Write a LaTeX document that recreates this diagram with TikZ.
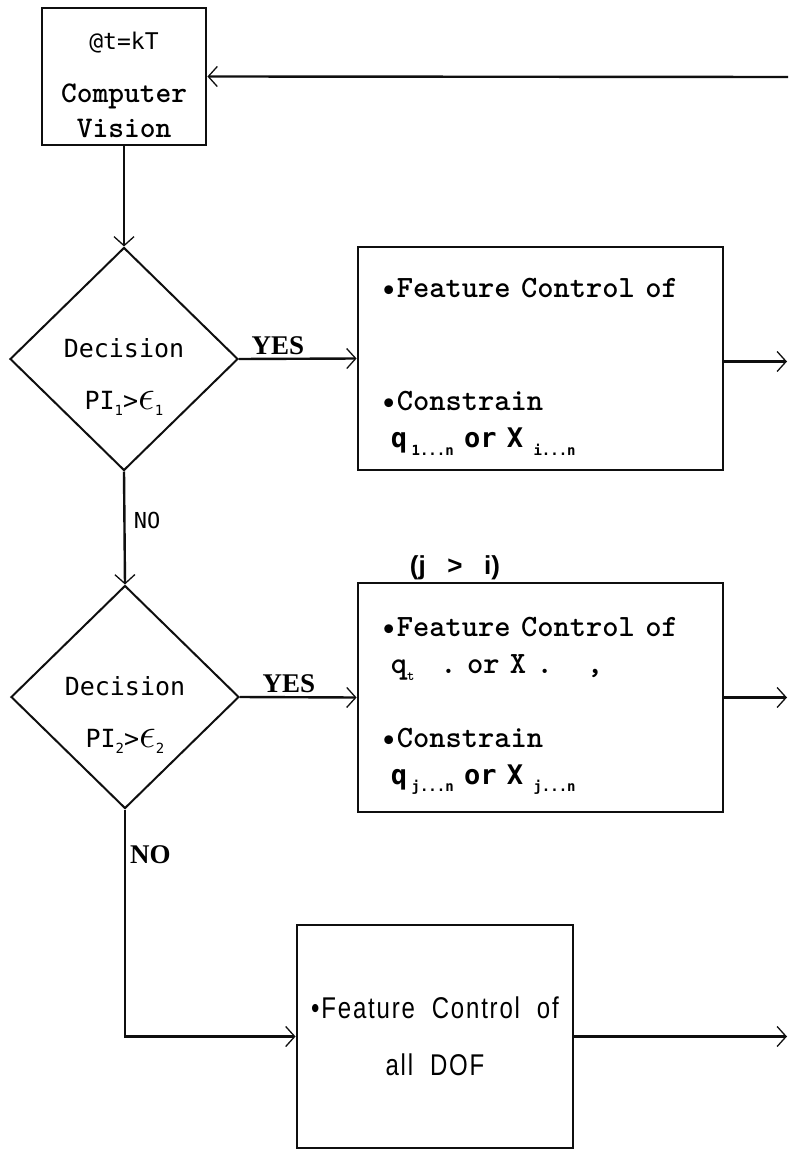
\documentclass[tikz,border=0pt]{standalone}
\usepackage{fontspec}
\setmainfont{Liberation Serif}
\newfontfamily\dotfont{DejaVu Sans Mono}
\newfontfamily\helvfont{Liberation Sans}
\newfontfamily\narrowfont[FakeStretch=0.8,LetterSpace=6]{Liberation Sans}
\usetikzlibrary{arrows.meta,positioning,shapes.geometric}
\definecolor{ink}{RGB}{15,15,15}
\newcommand{\lowsub}[1]{\raisebox{-0.5ex}{\fontsize{14}{14}\selectfont #1}}
\newcommand{\bigeps}{\scalebox{1.7}{$\epsilon$}}
\tikzset{
  >={Straight Barb[length=9pt,width=20pt,line width=1.3pt]},
  flow/.style={->,line width=2.4pt,draw=ink},
  blockbox/.style={draw=ink,line width=2.8pt,inner sep=0pt},
  fcbox/.style={blockbox,minimum width=365,align=left,text width=320,
    font=\ttfamily\bfseries\fontsize{31}{37}\selectfont},
  decide/.style={diamond,draw=ink,line width=2pt,minimum width=228,minimum height=223,inner sep=0pt},
  dectext/.style={align=center,font=\dotfont\fontsize{25}{52}\selectfont},
  yeslbl/.style={font=\bfseries\fontsize{27}{27}\selectfont,inner sep=3pt},
}

\begin{document}
\begin{tikzpicture}[x=1pt,y=-1pt]
  \useasboundingbox (0,0) rectangle (788,1150);
  \fill[white] (0,0) rectangle (788,1150);
  % sensing step
  \node[blockbox,minimum width=164,minimum height=137,align=center,
    font=\ttfamily\bfseries\fontsize{30}{35}\selectfont] (vision) at (124,76.5)
    {{\dotfont\mdseries\fontsize{23}{23}\selectfont\rule{0pt}{34pt}@t=kT}\\[18pt]
     Computer\\Vision};
  % decisions
  \node[decide] (dec1) at (124,359) {};
  \node[dectext] (dec1txt) at ([yshift=-18pt]dec1.center) {Decision\\PI\lowsub{1}>\bigeps\lowsub{1}};
  \node[decide] (dec2) at (125,697) {};
  \node[dectext] (dec2txt) at ([yshift=-18pt]dec2.center) {Decision\\PI\lowsub{2}>\bigeps\lowsub{2}};
  % control laws
  \node[fcbox,minimum height=223] (fc1) at (540.5,358.5)
    {\rule{0pt}{36pt}\textbullet Feature Control of\\[76pt]
     \textbullet Constrain\\
     {\dotfont\bfseries\fontsize{27}{37}\selectfont\ q\,\lowsub{1...n}\ or X\ \lowsub{i...n}}};
  \node[fcbox,minimum height=229] (fc2) at (540.5,697.5)
    {\rule{0pt}{36pt}\textbullet Feature Control of\\
     \ q\lowsub{t}\hspace{26pt}.\ or X .\hspace{34pt},\\[37pt]
     \textbullet Constrain\\
     {\dotfont\bfseries\fontsize{27}{37}\selectfont\ q\,\lowsub{j...n}\ or X\ \lowsub{j...n}}};
  \node[font=\helvfont\bfseries\fontsize{26}{26}\selectfont,anchor=south] (order) at (455,583) {(j\ \ \ >\ \ \ i)};
  \node[blockbox,minimum width=276,minimum height=223,align=center,
    font=\narrowfont\fontsize{30}{57}\selectfont] (fc3) at (435,1036.5)
    {\textbullet Feature\ \ Control\ \ of\\all\ \ DOF};
  % outputs
  \coordinate (back) at (788,77);
  \coordinate (edge) at (787,0);
  \draw[flow] (back) -- (vision.east);
  \draw[flow] (vision.south) -- (dec1.north);
  \draw[flow] (dec1.east) -- node[yeslbl,above,pos=0.33] {YES} (fc1.west);
  \draw[flow] (dec1.south) -- node[font=\dotfont\fontsize{22}{22}\selectfont,anchor=west,xshift=5pt,pos=0.43] {NO} (dec2.north);
  \draw[flow] (dec2.east) -- node[yeslbl,above,pos=0.42] {YES} (fc2.west);
  \draw[flow] (dec2.south) |- node[yeslbl,anchor=west,xshift=1pt,pos=0.1] {NO} (fc3.west);
  \draw[flow] ([yshift=-3pt]fc1.east) -- ([yshift=-3pt]fc1.east -| edge);
  \draw[flow] (fc2.east) -- (fc2.east -| edge);
  \draw[flow] (fc3.east) -- (fc3.east -| edge);
\end{tikzpicture}
\end{document}
